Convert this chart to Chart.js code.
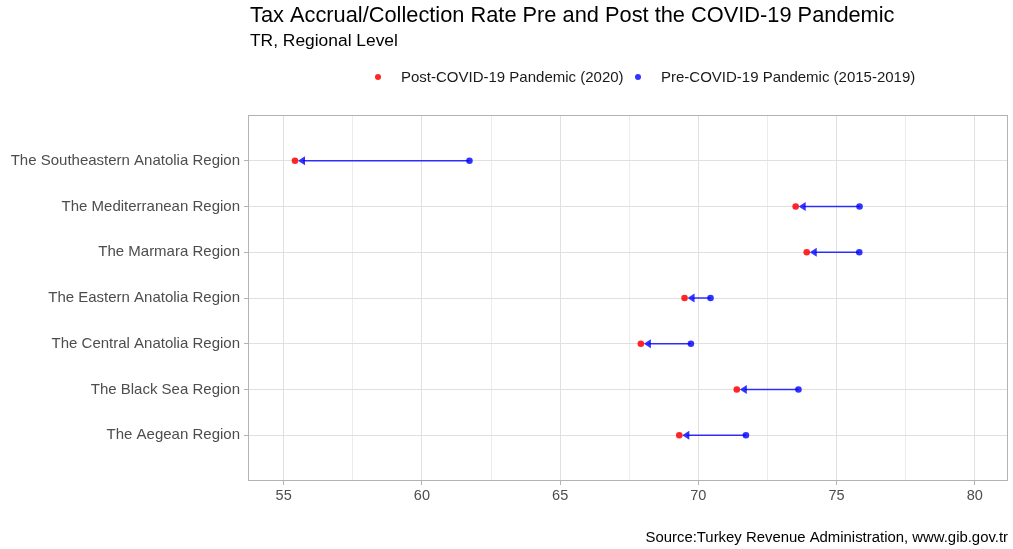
<!DOCTYPE html>
<html>
<head>
<meta charset="utf-8">
<script src="https://cdn.jsdelivr.net/npm/chart.js@4/dist/chart.umd.min.js"></script>
<style>
  body { margin: 0; background: #fff; }
  canvas { display: block; }
</style>
</head>
<body>
<canvas id="chart" width="1013" height="549"></canvas>
<script>
// regions, top to bottom
var regions = [
    'The Southeastern Anatolia Region',
    'The Mediterranean Region',
    'The Marmara Region',
    'The Eastern Anatolia Region',
    'The Central Anatolia Region',
    'The Black Sea Region',
    'The Aegean Region'
];
var post_covid = [55.41, 73.52, 73.92, 69.50, 67.92, 71.39, 69.31];
var pre_covid = [61.72, 75.83, 75.82, 70.44, 69.73, 73.62, 71.72];

var x_major = [55, 60, 65, 70, 75, 80];
var x_minor = [57.5, 62.5, 67.5, 72.5, 77.5];

var title_text = 'Tax Accrual/Collection Rate Pre and Post the COVID-19 Pandemic';
var subtitle_text = 'TR, Regional Level';
var post_label = 'Post-COVID-19 Pandemic (2020)';
var pre_label = 'Pre-COVID-19 Pandemic (2015-2019)';
var caption_text = 'Source:Turkey Revenue Administration, www.gib.gov.tr';

var FONT = '"Liberation Sans", Arial, sans-serif';
var RED = 'rgba(255, 0, 0, 0.85)';
var BLUE = 'rgba(0, 0, 255, 0.8)';

function points(values)
{
    return values.map(function(v, i) { return { x: v, y: i }; });
}

// arrows from pre to post value
var arrow_plugin = {
    id: 'arrows',
    afterDatasetsDraw: function(chart)
    {
        var ctx = chart.ctx;
        var xs = chart.scales.x;
        var ys = chart.scales.y;
        ctx.save();
        ctx.strokeStyle = BLUE;
        ctx.fillStyle = BLUE;
        ctx.lineWidth = 1.5;
        for (var i = 0; i < regions.length; i++)
        {
            var from = xs.getPixelForValue(pre_covid[i]);
            var tip = xs.getPixelForValue(post_covid[i]) + 3;
            var y = ys.getPixelForValue(i);
            ctx.beginPath();
            ctx.moveTo(from, y);
            ctx.lineTo(tip + 5, y);
            ctx.stroke();
            ctx.beginPath();
            ctx.moveTo(tip, y);
            ctx.lineTo(tip + 7, y - 4.5);
            ctx.lineTo(tip + 7, y + 4.5);
            ctx.closePath();
            ctx.fill();
        }
        ctx.restore();
    }
};

// panel border, titles, legend, caption
var text_plugin = {
    id: 'texts',
    afterDraw: function(chart)
    {
        var ctx = chart.ctx;
        var a = chart.chartArea;
        ctx.save();
        ctx.strokeStyle = '#b3b3b3';
        ctx.lineWidth = 1;
        ctx.strokeRect(a.left + 0.5, a.top + 0.5, a.right - a.left - 1, a.bottom - a.top - 1);

        ctx.textBaseline = 'middle';
        ctx.fillStyle = '#000';
        ctx.textAlign = 'left';
        ctx.font = '21.8px ' + FONT;
        ctx.fillText(title_text, 250, 16);
        ctx.font = '17.4px ' + FONT;
        ctx.fillText(subtitle_text, 250, 41);

        ctx.font = '15px ' + FONT;
        ctx.fillStyle = RED;
        ctx.beginPath(); ctx.arc(378, 77, 3, 0, Math.PI * 2); ctx.fill();
        ctx.fillStyle = '#1a1a1a';
        ctx.fillText(post_label, 401, 78);
        ctx.fillStyle = BLUE;
        ctx.beginPath(); ctx.arc(638, 77, 3, 0, Math.PI * 2); ctx.fill();
        ctx.fillStyle = '#1a1a1a';
        ctx.fillText(pre_label, 661, 78);

        ctx.font = '14.9px ' + FONT;
        ctx.textAlign = 'right';
        ctx.fillStyle = '#000';
        ctx.fillText(caption_text, 1008, 538);
        ctx.restore();
    }
};

var chart = new Chart(document.getElementById('chart'), {
    type: 'scatter',
    data: {
        datasets: [
            {
                label: post_label,
                data: points(post_covid),
                backgroundColor: RED,
                borderColor: RED,
                pointRadius: 3.3,
                borderWidth: 0
            },
            {
                label: pre_label,
                data: points(pre_covid),
                backgroundColor: BLUE,
                borderColor: BLUE,
                pointRadius: 3.3,
                borderWidth: 0
            }
        ]
    },
    options: {
        responsive: false,
        animation: false,
        layout: { padding: { top: 115, right: 5, left: 0, bottom: 0 } },
        plugins: {
            legend: { display: false },
            tooltip: { enabled: false }
        },
        scales: {
            x: {
                type: 'linear',
                min: 53.71,
                max: 81.2,
                afterBuildTicks: function(axis)
                {
                    axis.ticks = x_major.concat(x_minor).sort(function(a, b) { return a - b; })
                        .map(function(v) { return { value: v }; });
                },
                afterFit: function(axis) { axis.height = 68; },
                border: { display: false },
                grid: {
                    color: function(c) { return x_major.indexOf(c.tick.value) >= 0 ? '#e0e0e0' : '#ececec'; },
                    tickColor: function(c) { return x_major.indexOf(c.tick.value) >= 0 ? '#b3b3b3' : 'rgba(0,0,0,0)'; },
                    tickLength: 4
                },
                ticks: {
                    color: '#4d4d4d',
                    font: { family: FONT, size: 14.5 },
                    padding: 2,
                    maxRotation: 0,
                    autoSkip: false,
                    callback: function(v) { return x_major.indexOf(v) >= 0 ? String(v) : ''; }
                }
            },
            y: {
                type: 'linear',
                reverse: true,
                min: -1,
                max: 7,
                afterBuildTicks: function(axis)
                {
                    axis.ticks = regions.map(function(r, i) { return { value: i }; });
                },
                afterFit: function(axis) { axis.width = 248; },
                border: { display: false },
                grid: {
                    color: '#e0e0e0',
                    tickColor: '#b3b3b3',
                    tickLength: 4
                },
                ticks: {
                    color: '#4d4d4d',
                    font: { family: FONT, size: 15 },
                    padding: 4,
                    autoSkip: false,
                    callback: function(v) { return regions[v]; }
                }
            }
        }
    },
    plugins: [arrow_plugin, text_plugin]
});
</script>
</body>
</html>
